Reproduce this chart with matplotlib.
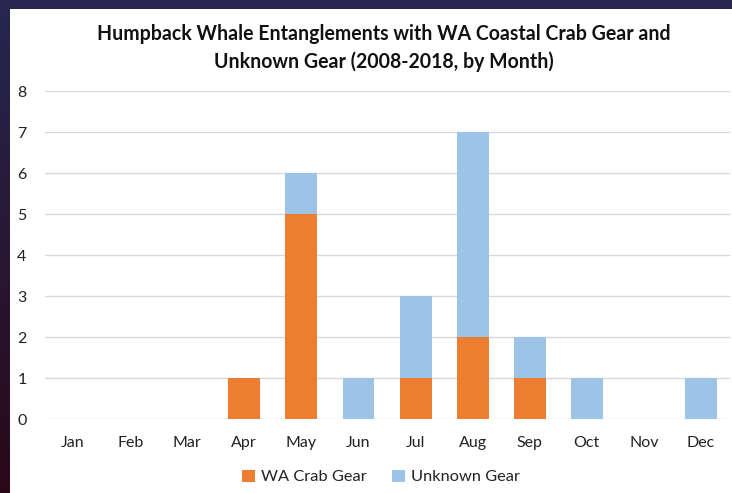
import matplotlib
matplotlib.use("Agg")
import matplotlib.pyplot as plt
import numpy as np
from matplotlib.patches import Rectangle

months = ["Jan", "Feb", "Mar", "Apr", "May", "Jun", "Jul", "Aug", "Sep", "Oct", "Nov", "Dec"]
wa_crab = [0, 0, 0, 1, 5, 0, 1, 2, 1, 0, 0, 0]
unknown = [0, 0, 0, 0, 1, 1, 2, 5, 1, 1, 0, 1]
yticks = list(range(0, 9))
title = "Humpback Whale Entanglements with WA Coastal Crab Gear and\nUnknown Gear (2008-2018, by Month)"

plt.rcParams['font.family'] = ['Lato', 'DejaVu Sans']

fig = plt.figure(figsize=(7.32, 4.93), dpi=100)

# background gradient
bg = fig.add_axes([0, 0, 1, 1], zorder=-10)
top = np.array([0x26, 0x27, 0x52]) / 255
bot = np.array([0x2a, 0x08, 0x18]) / 255
t = np.linspace(0, 1, 200)[:, None]
grad = top[None, :] * (1 - t) + bot[None, :] * t
img = np.repeat(grad[:, None, :], 10, axis=1)
bg.imshow(img, aspect='auto', extent=[0, 1, 0, 1])
bg.add_patch(Rectangle((10 / 732, 0), 1, 1 - 9 / 493, facecolor='white', edgecolor='none'))
bg.set_xlim(0, 1)
bg.set_ylim(0, 1)
bg.axis('off')

ax = fig.add_axes([0.0608, 0.150, 0.9359, 0.6654])
ax.set_facecolor('none')
x = np.arange(len(months))
w = 0.56
ax.bar(x, wa_crab, width=w, color='#ED7D31', label='WA Crab Gear', zorder=3)
ax.bar(x, unknown, width=w, bottom=wa_crab, color='#9DC3E6', label='Unknown Gear', zorder=3)
ax.set_xlim(-0.5, len(months) - 0.5)
ax.set_ylim(0, 8)
ax.set_yticks(yticks)
ax.set_xticks(x)
ax.set_xticklabels(months)
ax.tick_params(axis='both', length=0, labelsize=11.5, colors='#222222')
ax.tick_params(axis='x', pad=12)
ax.tick_params(axis='y', pad=13)
for yv in yticks:
    ax.axhline(yv, color='#D9D9D9', lw=1, zorder=1)
for s in ax.spines.values():
    s.set_visible(False)

fig.text(383.5 / 732, 1 - 48 / 493, title, ha='center', va='center', fontsize=14.05,
         fontweight='bold', color='#111111', linespacing=1.4)

fig.legend(loc='center', bbox_to_anchor=(0.5 + 15 / 732, 1 - 477 / 493), ncol=2, frameon=False,
           fontsize=11.8, handlelength=0.8, handleheight=0.8, columnspacing=1.5, handletextpad=0.4,
           labelcolor='#222222')

fig.savefig("out.png", dpi=100)
